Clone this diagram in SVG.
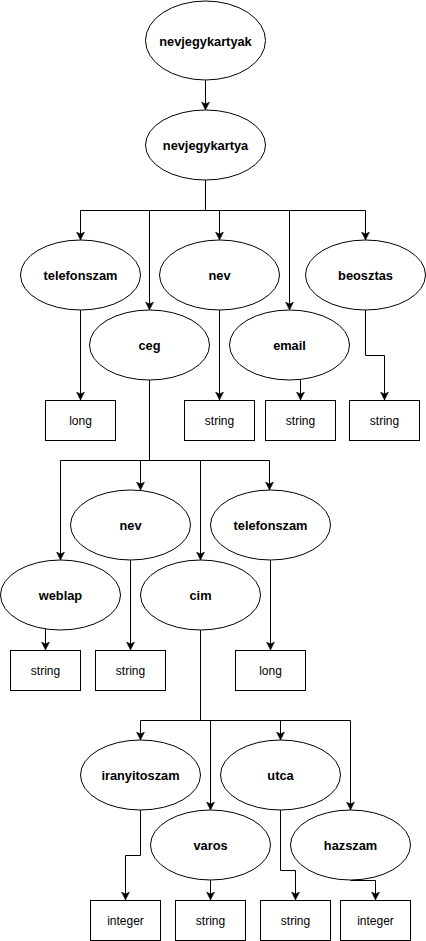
<svg xmlns="http://www.w3.org/2000/svg" width="426" height="941" viewBox="0 0 426 941">
<style>
.n ellipse{fill:#fff;stroke:#000;stroke-width:1}
.b rect{fill:#fff;stroke:#000;stroke-width:1}
.n text{font-family:"Liberation Sans",Arial,sans-serif;font-size:12.8px;font-weight:bold;fill:#000;text-anchor:middle;dominant-baseline:central}
.b text{font-family:"Liberation Sans",Arial,sans-serif;font-size:12px;fill:#000;text-anchor:middle;dominant-baseline:central}
#edges path{fill:none;stroke:#000;stroke-width:1}
#edges path.a{marker-end:url(#arr)}
</style>
<defs>
<marker id="arr" markerUnits="userSpaceOnUse" markerWidth="9" markerHeight="9" refX="8" refY="4" orient="auto" viewBox="0 0 9 9">
<path d="M0,0 L8,4 L0,8 L2,4 z" fill="#000" stroke="#000" stroke-width="0.5"/>
</marker>
</defs>
<rect width="426" height="941" fill="#fff"/>
<g id="edges">
<path class="a" d="M205.5,80 V110"/>
<path d="M205.5,180 V210.5 M80.5,210.5 H365.5"/>
<path class="a" d="M80.5,210.5 V240"/>
<path class="a" d="M149.5,210.5 V310"/>
<path class="a" d="M219.5,210.5 V240"/>
<path class="a" d="M289.5,210.5 V310"/>
<path class="a" d="M365.5,210.5 V240"/>
<path class="a" d="M80.5,310 V400"/>
<path class="a" d="M219.5,310 V400"/>
<path class="a" d="M300.5,379.5 V400"/>
<path class="a" d="M365.5,310 V355.5 H384.5 V400"/>
<path d="M149.5,380 V460.5 M60.5,460.5 H269.5"/>
<path class="a" d="M60.5,460.5 V560"/>
<path class="a" d="M140.5,460.5 V490"/>
<path class="a" d="M200.5,460.5 V560"/>
<path class="a" d="M269.5,460.5 V490"/>
<path class="a" d="M45.5,629 V650"/>
<path class="a" d="M130.5,560 V650"/>
<path class="a" d="M270.5,560 V650"/>
<path d="M200.5,630 V720.5 M140.5,720.5 H350.5"/>
<path class="a" d="M140.5,720.5 V740"/>
<path class="a" d="M210.5,720.5 V810"/>
<path class="a" d="M280.5,720.5 V740"/>
<path class="a" d="M350.5,720.5 V810"/>
<path class="a" d="M140.5,810 V855.5 H125.5 V900"/>
<path class="a" d="M210.5,880 V900"/>
<path class="a" d="M280.5,810 V870.5 H295.5 V900"/>
<path class="a" d="M350.5,880.5 H375.5 V900"/>
</g>
<g id="nevjegykartyak" class="n"><ellipse cx="205.5" cy="40.5" rx="60" ry="39.5"/><text x="205.5" y="41">nevjegykartyak</text></g>
<g id="nevjegykartya" class="n"><ellipse cx="205.5" cy="145" rx="60" ry="35"/><text x="205.5" y="145">nevjegykartya</text></g>
<g id="telefonszam" class="n"><ellipse cx="80.5" cy="275" rx="60" ry="35"/><text x="80.5" y="275">telefonszam</text></g>
<g id="nev" class="n"><ellipse cx="219.5" cy="275" rx="60" ry="35"/><text x="219.5" y="275">nev</text></g>
<g id="beosztas" class="n"><ellipse cx="365.5" cy="275" rx="60" ry="35"/><text x="365.5" y="275">beosztas</text></g>
<g id="ceg" class="n"><ellipse cx="149.5" cy="345" rx="60" ry="35"/><text x="149.5" y="345">ceg</text></g>
<g id="email" class="n"><ellipse cx="289.5" cy="345" rx="60" ry="35"/><text x="289.5" y="345">email</text></g>
<g id="telefonszam-type" class="b"><rect x="45.5" y="400.5" width="70" height="40"/><text x="80.5" y="420.5">long</text></g>
<g id="nev-type" class="b"><rect x="184.5" y="400.5" width="70" height="40"/><text x="219.5" y="420.5">string</text></g>
<g id="email-type" class="b"><rect x="265.5" y="400.5" width="70" height="40"/><text x="300.5" y="420.5">string</text></g>
<g id="beosztas-type" class="b"><rect x="349.5" y="400.5" width="70" height="40"/><text x="384.5" y="420.5">string</text></g>
<g id="ceg-nev" class="n"><ellipse cx="130.5" cy="525" rx="60" ry="35"/><text x="130.5" y="525">nev</text></g>
<g id="ceg-telefonszam" class="n"><ellipse cx="270.5" cy="525" rx="60" ry="35"/><text x="270.5" y="525">telefonszam</text></g>
<g id="weblap" class="n"><ellipse cx="60.5" cy="595" rx="60" ry="35"/><text x="60.5" y="595">weblap</text></g>
<g id="cim" class="n"><ellipse cx="200.5" cy="595" rx="60" ry="35"/><text x="200.5" y="595">cim</text></g>
<g id="weblap-type" class="b"><rect x="10.5" y="650.5" width="70" height="40"/><text x="45.5" y="670.5">string</text></g>
<g id="ceg-nev-type" class="b"><rect x="95.5" y="650.5" width="70" height="40"/><text x="130.5" y="670.5">string</text></g>
<g id="ceg-telefonszam-type" class="b"><rect x="235.5" y="650.5" width="70" height="40"/><text x="270.5" y="670.5">long</text></g>
<g id="iranyitoszam" class="n"><ellipse cx="140.5" cy="775" rx="60" ry="35"/><text x="140.5" y="775">iranyitoszam</text></g>
<g id="utca" class="n"><ellipse cx="280.5" cy="775" rx="60" ry="35"/><text x="280.5" y="775">utca</text></g>
<g id="varos" class="n"><ellipse cx="210.5" cy="845" rx="60" ry="35"/><text x="210.5" y="845">varos</text></g>
<g id="hazszam" class="n"><ellipse cx="350.5" cy="845" rx="60" ry="35"/><text x="350.5" y="845">hazszam</text></g>
<g id="iranyitoszam-type" class="b"><rect x="90.5" y="900.5" width="70" height="40"/><text x="125.5" y="920.5">integer</text></g>
<g id="varos-type" class="b"><rect x="175.5" y="900.5" width="70" height="40"/><text x="210.5" y="920.5">string</text></g>
<g id="utca-type" class="b"><rect x="260.5" y="900.5" width="70" height="40"/><text x="295.5" y="920.5">string</text></g>
<g id="hazszam-type" class="b"><rect x="340.5" y="900.5" width="70" height="40"/><text x="375.5" y="920.5">integer</text></g>
</svg>
